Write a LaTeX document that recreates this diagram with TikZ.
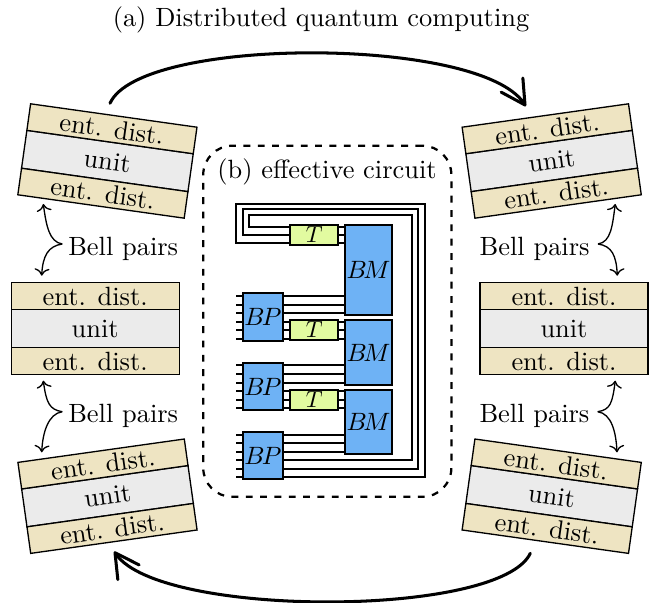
\documentclass[tikz,border=0pt]{standalone}
\usetikzlibrary{arrows.meta,calc}
\definecolor{entc}{HTML}{EEE4C2}
\definecolor{unitc}{HTML}{EBEBEB}
\definecolor{blockc}{HTML}{6EB2F5}
\definecolor{tc}{HTML}{E2FBA0}
\pgfdeclarearrow{
  name=OpenVee,
  setup code={
    \pgfarrowssettipend{0pt}
    \pgfarrowssetlineend{-0.7pt}
    \pgfarrowssetvisualbackend{-1pt}
    \pgfarrowssetbackend{-9pt}
    \pgfarrowshullpoint{0pt}{0pt}
    \pgfarrowshullpoint{-9pt}{4.9pt}
    \pgfarrowshullpoint{-9pt}{-4.9pt}
  },
  drawing code={
    \pgfsetdash{}{0pt}
    \pgfsetroundcap
    \pgfsetroundjoin
    \pgfpathmoveto{\pgfqpoint{-9pt}{4.9pt}}
    \pgfpathlineto{\pgfqpoint{0pt}{0pt}}
    \pgfpathlineto{\pgfqpoint{-9pt}{-4.9pt}}
    \pgfusepathqstroke
  }
}
\tikzset{
  x=0.3788pt,y=-0.3788pt,
  layer/.style={draw=black,line width=0.5pt,minimum width=63.64pt,inner sep=0pt,outer sep=0pt},
  entlayer/.style={layer,fill=entc,minimum height=10.15pt},
  unitlayer/.style={layer,fill=unitc,minimum height=14.5pt},
  block/.style={draw=black,line width=0.8pt,fill=blockc,inner sep=0pt,outer sep=0pt},
  tgate/.style={draw=black,line width=0.8pt,fill=tc,inner sep=0pt,outer sep=0pt,minimum width=18.3pt,minimum height=7.7pt},
  wire/.style={line width=0.7pt},
  bigarrow/.style={line width=1.15pt,-{OpenVee},line cap=round},
  bellarrow/.style={line width=0.5pt,->},
  belllabel/.style={inner sep=0pt,outer sep=0pt,anchor=west,text height=9.2pt,text depth=0.86pt},
}
\newcommand{\mathlabel}[2][0.95]{\scalebox{#1}{$#2$}}
\newcommand{\stackunit}[4]{%
  \begin{scope}[shift={(#2,#3)},rotate=#4,transform shape]
    \node[unitlayer] (#1u) at (0,0) {unit};
    \node[entlayer,anchor=south] (#1t) at (#1u.north) {ent. dist.};
    \node[entlayer,anchor=north] (#1b) at (#1u.south) {ent. dist.};
  \end{scope}}
\begin{document}
\begin{tikzpicture}
\useasboundingbox (0,0) rectangle (657,603);
\node[anchor=base] (title) at (321,27) {(a) Distributed quantum computing};
% stacks
\stackunit{sa}{107.4}{161}{-8}
\stackunit{sb}{95.2}{328.7}{0}
\stackunit{sc}{107.5}{496.2}{8}
\stackunit{sd}{551.7}{161}{8}
\stackunit{se}{564}{328.7}{0}
\stackunit{sf}{551.7}{496.2}{-8}
% big arrows
\coordinate (ta) at (110,103.3);
\coordinate (tb) at (525,105);
\coordinate (ba) at (530.3,553.3);
\coordinate (bb) at (115,552.7);
\draw[bigarrow] (ta) .. controls (140,36) and (480,36) .. (tb);
\draw[bigarrow] (ba) .. controls (500,618) and (160,618) .. (bb);
% Bell pairs
\node[belllabel] (la) at (68.3,244) {Bell pairs};
\node[belllabel] (lb) at (68.3,411.7) {Bell pairs};
\node[belllabel] (lc) at (479.7,244) {Bell pairs};
\node[belllabel] (ld) at (479.5,411.7) {Bell pairs};
\coordinate (la0) at (62.3,244);
\coordinate (lb0) at (62.3,411.7);
\coordinate (lc0) at (598,244);
\coordinate (ld0) at (597.7,411.7);
\coordinate (la1) at (43.3,204);
\coordinate (la2) at (41.7,275.7);
\coordinate (lb1) at (43.3,380.7);
\coordinate (lb2) at (41.7,452.3);
\coordinate (lc1) at (615.3,204);
\coordinate (lc2) at (617.3,275.7);
\coordinate (ld1) at (615.3,380.7);
\coordinate (ld2) at (617,452.3);
\draw[bellarrow] (la0) .. controls +(-13,-2) and +(3,22) .. (la1);
\draw[bellarrow] (la0) .. controls +(-14,2) and +(1,-20) .. (la2);
\draw[bellarrow] (lb0) .. controls +(-13,-2) and +(3,22) .. (lb1);
\draw[bellarrow] (lb0) .. controls +(-14,2) and +(1,-20) .. (lb2);
\draw[bellarrow] (lc0) .. controls +(13,-2) and +(-3,22) .. (lc1);
\draw[bellarrow] (lc0) .. controls +(14,2) and +(-1,-20) .. (lc2);
\draw[bellarrow] (ld0) .. controls +(13,-2) and +(-3,22) .. (ld1);
\draw[bellarrow] (ld0) .. controls +(14,2) and +(-1,-20) .. (ld2);
% effective circuit frame
\node[draw=black,line width=0.85pt,dash pattern=on 2.6pt off 2.83pt,rounded corners=11pt,minimum width=94pt,minimum height=133pt,inner sep=0pt,outer sep=0pt] (frame) at (327.3,321.3) {};
\node[anchor=base] (blabel) at (327,179) {(b) effective circuit};
% blocks
\node[block,minimum width=15.25pt,minimum height=17.9pt] (bp1) at (262.8,317) {\mathlabel{B\mkern-2muP}};
\node[block,minimum width=15.25pt,minimum height=17.9pt] (bp2) at (262.8,386.7) {\mathlabel{B\mkern-2muP}};
\node[block,minimum width=15.25pt,minimum height=17.9pt] (bp3) at (262.8,455.8) {\mathlabel{B\mkern-2muP}};
\node[tgate] (t1) at (314.2,234.9) {\mathlabel[0.88]{T}};
\node[tgate] (t2) at (314.2,330) {\mathlabel[0.88]{T}};
\node[tgate] (t3) at (314.2,400) {\mathlabel[0.88]{T}};
\node[block,minimum width=17.9pt,minimum height=34.2pt] (bm1) at (368.6,269.9) {\mathlabel{B\mkern-2.5muM}};
\node[block,minimum width=17.9pt,minimum height=24.4pt] (bm2) at (368.6,352.5) {\mathlabel{B\mkern-2.5muM}};
\node[block,minimum width=17.9pt,minimum height=24.5pt] (bm3) at (368.6,422) {\mathlabel{B\mkern-2.5muM}};
% wires
\foreach \b/\ya/\yb/\yc/\yd/\ye/\yf in {bp1/296.3/305/313.3/321.7/330.3/339,bp2/365.3/374/382.7/391.3/400/408.3,bp3/435/443.3/452/460.3/469/477.3}{
  \foreach \y in {\ya,\yb,\yc,\yd,\ye,\yf}{
    \draw[wire] (\b.west |- 0,\y) -- ++(-7,0);
  }
}
\foreach \y in {296.3,305,313.3}{\draw[wire] (bp1.east |- 0,\y) -- (bm1.west |- 0,\y);}
\foreach \y in {365.3,374,382.7}{\draw[wire] (bp2.east |- 0,\y) -- (bm2.west |- 0,\y);}
\foreach \y in {435,443.3,452}{\draw[wire] (bp3.east |- 0,\y) -- (bm3.west |- 0,\y);}
\foreach \y in {321.7,330.3,339}{
  \draw[wire] (bp1.east |- 0,\y) -- (t2.west |- 0,\y);
  \draw[wire] (t2.east |- 0,\y) -- (bm2.west |- 0,\y);}
\foreach \y in {391.3,400,408.3}{
  \draw[wire] (bp2.east |- 0,\y) -- (t3.west |- 0,\y);
  \draw[wire] (t3.east |- 0,\y) -- (bm3.west |- 0,\y);}
\foreach \y in {226.7,235,243.3}{\draw[wire] (t1.east |- 0,\y) -- (bm1.west |- 0,\y);}
\draw[wire] (bp3.east |- 0,460.3) -- (411.7,460.3) -- (411.7,214.7) -- (249.3,214.7) -- (249.3,226.7) -- (t1.west |- 0,226.7);
\draw[wire] (bp3.east |- 0,469) -- (418.3,469) -- (418.3,209.3) -- (242.7,209.3) -- (242.7,235) -- (t1.west |- 0,235);
\draw[wire] (bp3.east |- 0,477.3) -- (425,477.3) -- (425,204) -- (236,204) -- (236,243.3) -- (t1.west |- 0,243.3);
\end{tikzpicture}
\end{document}
